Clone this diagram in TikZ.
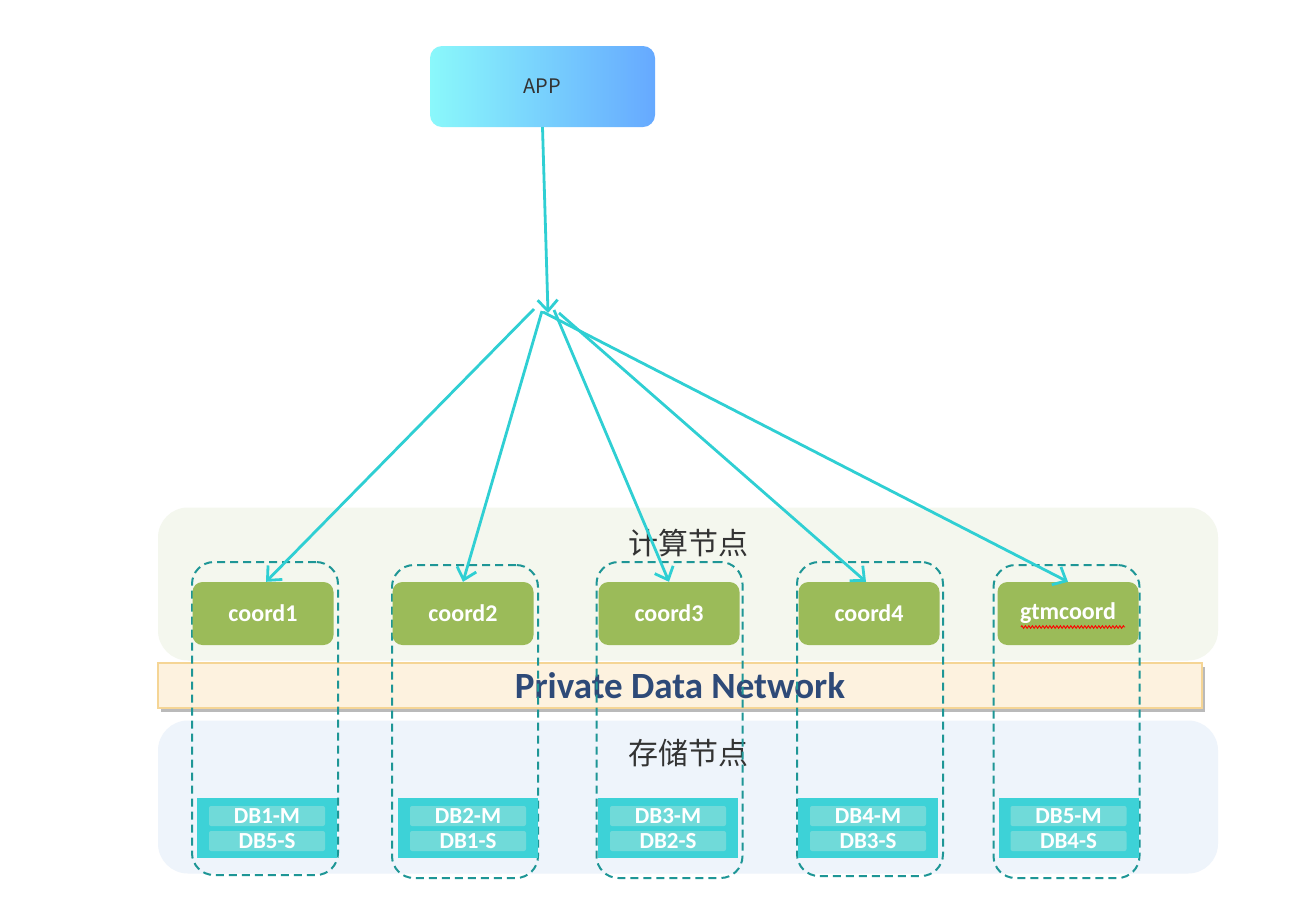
\documentclass[tikz,border=0pt]{standalone}
\usepackage{fontspec}
\setmainfont{Carlito}
\newfontfamily\cjk{Noto Sans CJK SC}
\usetikzlibrary{arrows.meta,shadows,decorations.pathmorphing}
\definecolor{appL}{HTML}{8AF8FB}
\definecolor{appR}{HTML}{66A9FF}
\definecolor{lineC}{HTML}{2FCFD3}
\definecolor{coordG}{HTML}{9BBB59}
\definecolor{dashC}{HTML}{1E9696}
\definecolor{dbC}{HTML}{3DD2D7}
\definecolor{pillC}{HTML}{70DAD9}
\definecolor{bandF}{HTML}{FDF2DF}
\definecolor{bandD}{HTML}{F5D595}
\definecolor{netT}{HTML}{2E4A78}
\definecolor{greenBg}{HTML}{F4F7EE}
\definecolor{blueBg}{HTML}{EEF4FB}
\definecolor{txtG}{HTML}{333333}
\tikzset{
  bgpanel/.style={rounded corners=30pt, inner sep=0pt, minimum width=1060pt, minimum height=153pt},
  coordbox/.style={fill=coordG, rounded corners=10pt, minimum width=141pt, minimum height=63pt, text=white, font=\bfseries\fontsize{24}{26}\selectfont, inner sep=0pt},
  grp/.style={draw=dashC, dash pattern=on 8pt off 5pt, line width=2pt, rounded corners=22pt, minimum width=146pt, inner sep=0pt},
  dbbox/.style={fill=dbC, minimum width=140pt, minimum height=60pt, inner sep=0pt},
  pill/.style={fill=pillC, rounded corners=2pt, minimum width=116pt, minimum height=20pt, inner sep=0pt, text=white, font=\bfseries\fontsize{23}{23}\selectfont},
  conn/.style={draw=lineC, line width=2.8pt, -{Straight Barb[length=11pt,width=20pt,line width=2.8pt]}},
}
\begin{document}
\begin{tikzpicture}[x=1pt,y=-1pt]
\useasboundingbox[fill=white] (0,0) rectangle (1312,914);
% background panels
\node[bgpanel, fill=greenBg] (cbg) at (688,584) {};
\node[bgpanel, fill=blueBg] (sbg) at (688,797) {};
\node[font=\cjk\fontsize{30}{32}\selectfont, text=txtG] (ct) at (688,543) {计算节点};
\node[font=\cjk\fontsize{30}{32}\selectfont, text=txtG] (st) at (688,753) {存储节点};
% network band
\node[fill=bandF, draw=bandD, line width=1.5pt, minimum width=1044pt, minimum height=45pt, inner sep=0pt,
  drop shadow={shadow xshift=3pt, shadow yshift=-4pt, opacity=0.45, fill=black!60}] (net) at (680,685.5) {};
\node[font=\bfseries\fontsize{37}{40}\selectfont, text=netT] (nett) at (680,686) {Private Data Network};
% app
\node[left color=appL, right color=appR, rounded corners=12pt, minimum width=225pt, minimum height=81pt, inner sep=0pt,
  font=\cjk\fontsize{20}{22}\selectfont, text=txtG] (app) at (542.5,86.5) {APP};
% dashed groups
\node[grp, minimum height=313pt] (g1) at (265,718.5) {};
\node[grp, minimum height=313pt] (g2) at (465,721.5) {};
\node[grp, minimum height=316pt] (g3) at (669.5,720) {};
\node[grp, minimum height=314pt] (g4) at (870,719) {};
\node[grp, minimum height=313pt] (g5) at (1066.5,721.5) {};
% coord boxes
\node[coordbox] (c1) at (263,613.5) {coord1};
\node[coordbox] (c2) at (463,613.5) {coord2};
\node[coordbox] (c3) at (669,613.5) {coord3};
\node[coordbox] (c4) at (869,613.5) {coord4};
\node[coordbox] (c5) at (1068,613.5) {gtmcoord};
\draw[red, line width=0.9pt, decorate, decoration={zigzag, segment length=3.5pt, amplitude=1.3pt}] (1021,627) -- (1125,627);
% DB boxes
\foreach \i/\x/\m/\s in {1/267/DB1-M/DB5-S, 2/468/DB2-M/DB1-S, 3/668/DB3-M/DB2-S, 4/868/DB4-M/DB3-S, 5/1068.5/DB5-M/DB4-S}{
  \node[dbbox] (db\i) at (\x,828) {};
  \node[pill] (dbm\i) at (\x,816) {\m};
  \node[pill] (dbs\i) at (\x,841) {\s};
}
% hub coordinates
\coordinate (hub) at (548,313);
\coordinate (h1) at (534,309);
\coordinate (h2) at (542,311);
\coordinate (h3) at (554,310);
\coordinate (h4) at (559,313);
\coordinate (h5) at (543,312);
% connectors
\draw[conn] (app.south) -- (hub);
\draw[conn] (h1) -- ([xshift=3pt]c1.north);
\draw[conn] (h2) -- (c2.north);
\draw[conn] (h3) -- (c3.north);
\draw[conn] (h4) -- ([xshift=-3pt]c4.north);
\draw[conn] (h5) -- (c5.north);
\end{tikzpicture}
\end{document}
